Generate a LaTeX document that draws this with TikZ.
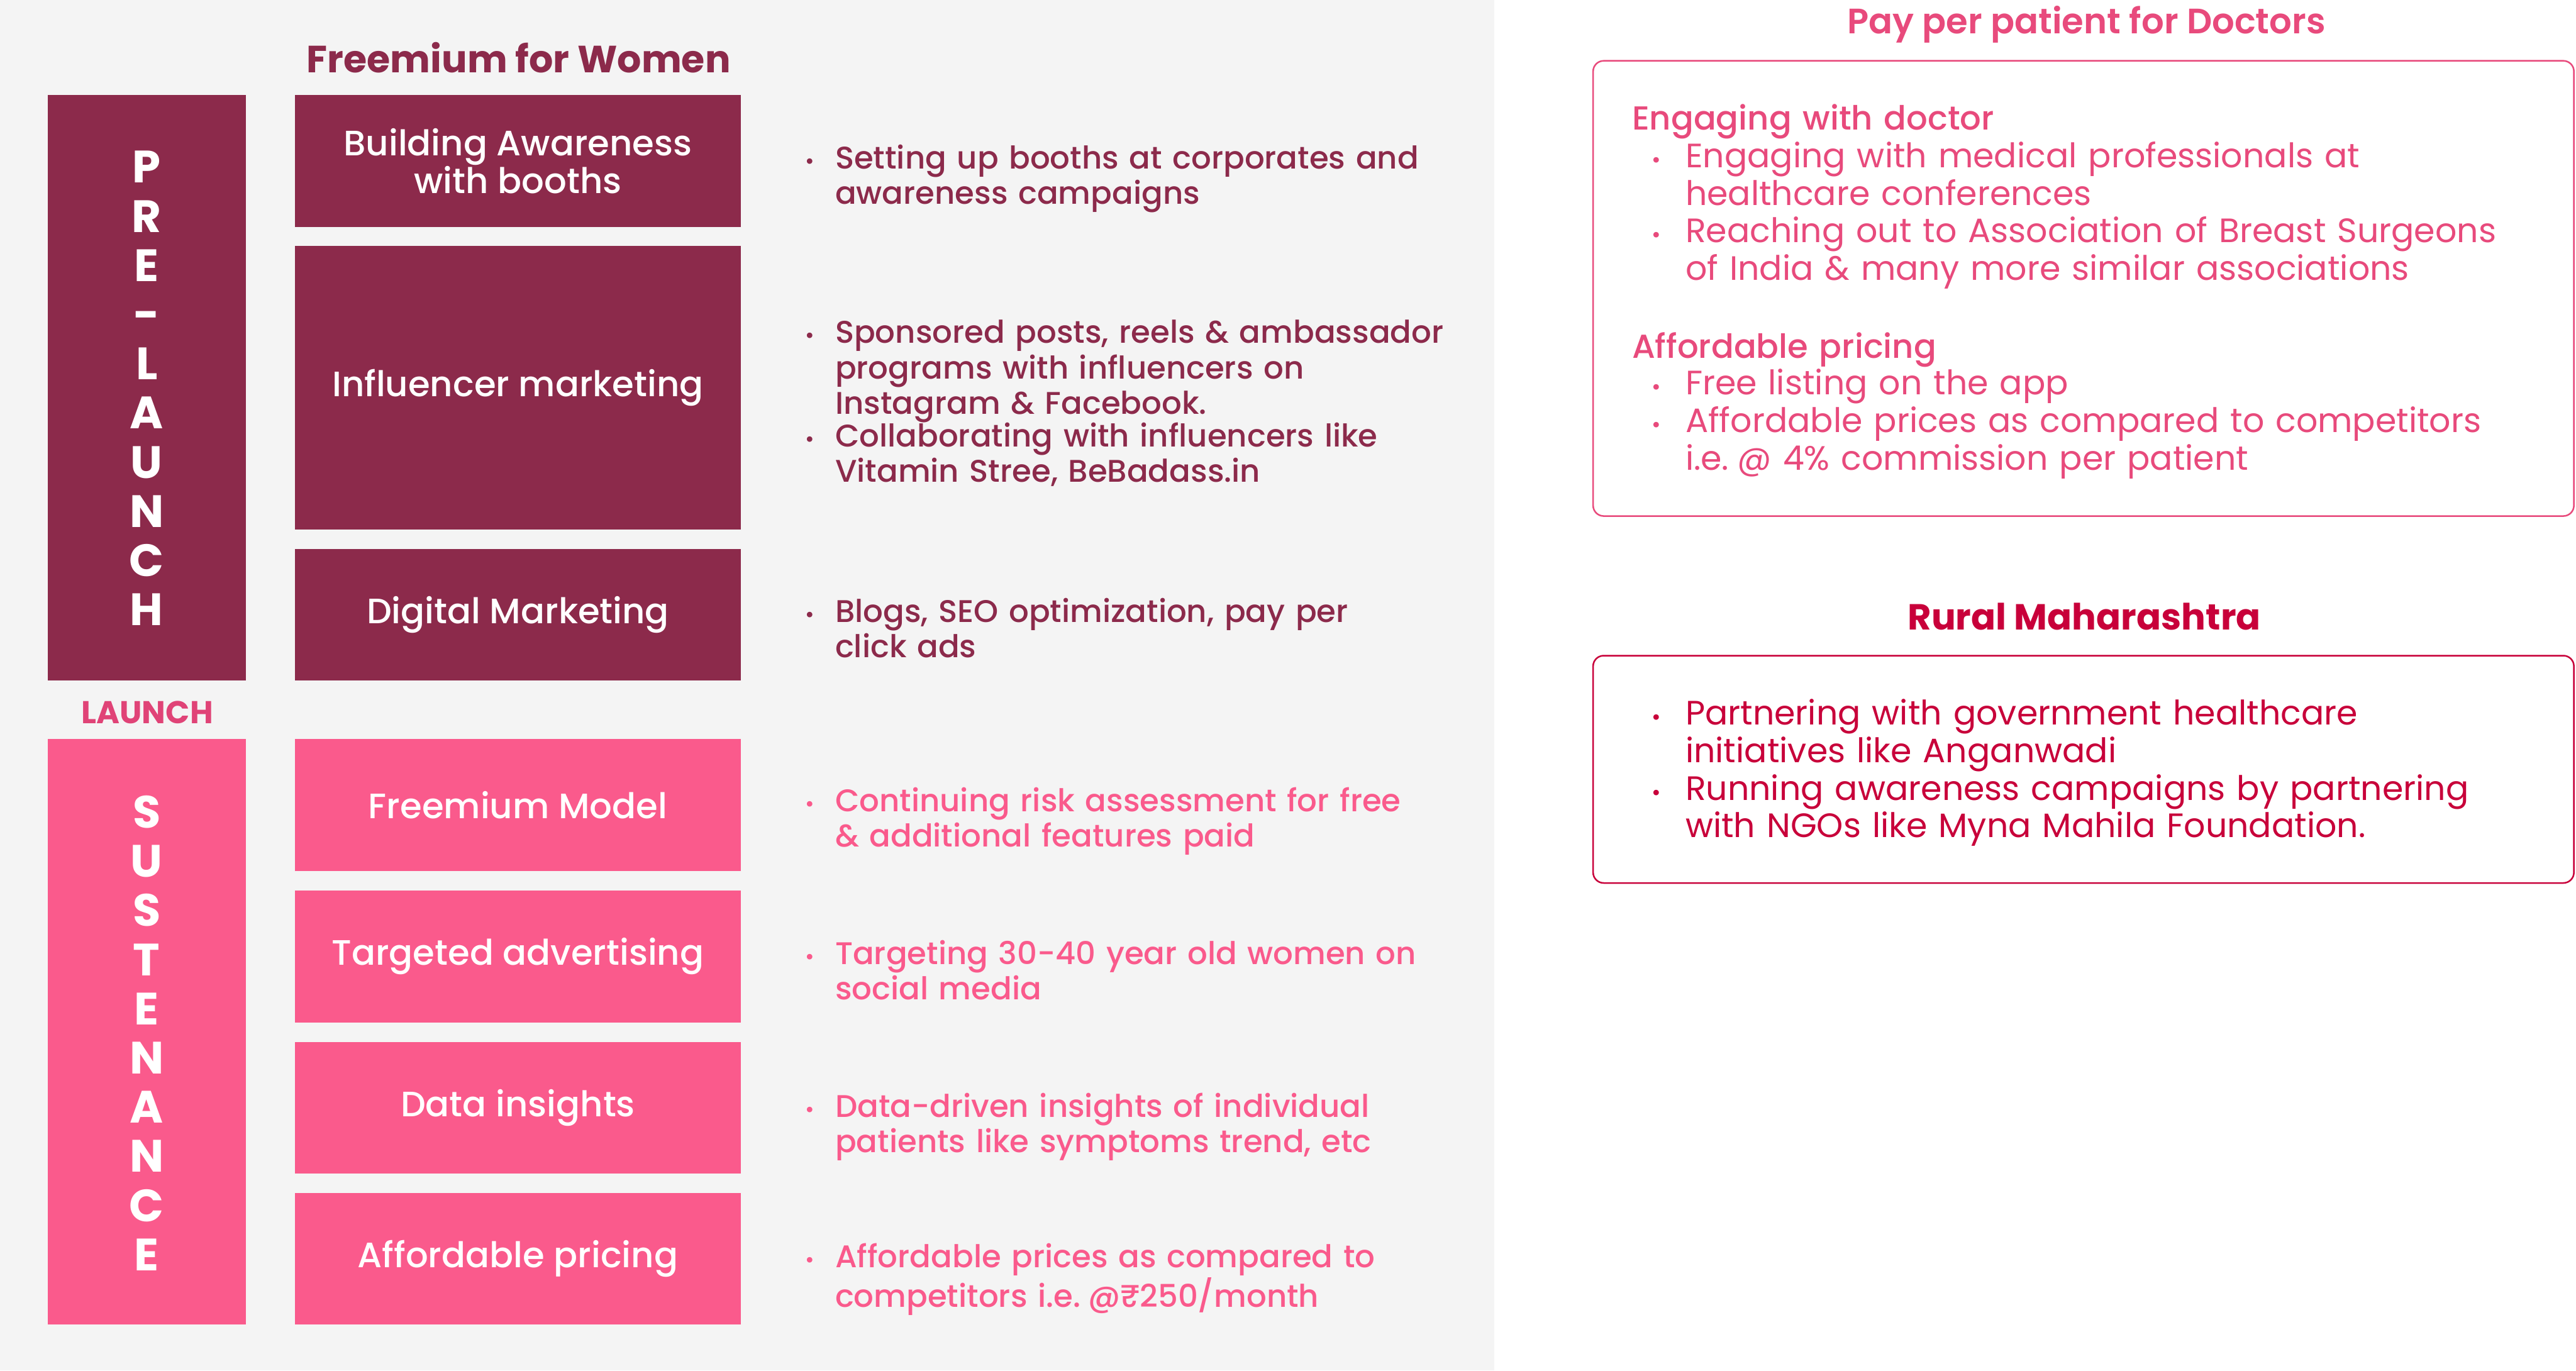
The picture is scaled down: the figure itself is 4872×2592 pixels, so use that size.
\documentclass[tikz,border=0pt]{standalone}
\usepackage{fontspec}
\setmainfont{Poppins}
\IfFontExistsTF{Poppins Medium}{\newfontfamily\medfont{Poppins Medium}}{\newfontfamily\medfont{Poppins}}
\IfFontExistsTF{Poppins SemiBold}{\newfontfamily\semifont{Poppins SemiBold}}{\newcommand\semifont{\bfseries}}
\usetikzlibrary{positioning}
\definecolor{plum}{HTML}{8C2A4B}
\definecolor{rose}{HTML}{FA5A8C}
\definecolor{launchpink}{HTML}{E04377}
\definecolor{docpink}{HTML}{E84A7C}
\definecolor{crimson}{HTML}{C8003A}
\definecolor{panelgray}{HTML}{F4F4F4}
\tikzset{bar/.style={rectangle,inner sep=0pt,minimum width=37.5mm,minimum height=110.7mm},
  stepbox/.style={rectangle,inner sep=0pt,minimum width=84.3mm,minimum height=24.9mm,align=center,text=white,font=\medfont\fontsize{19}{20.2}\selectfont},
  vletter/.style={anchor=base,inner sep=0pt,text=white,font=\bfseries\fontsize{24.4}{28}\selectfont},
  bul/.style={anchor=base,inner sep=0pt,font=\fontsize{12}{14}\selectfont},
  btext/.style={anchor=base west,inner sep=0pt,align=left,text width=125mm,font=\medfont\fontsize{16.85}{19.1}\selectfont},
  rtext/.style={anchor=base west,inner sep=0pt,align=left,text width=165mm,font=\fontsize{18.2}{20.2}\selectfont},
  head/.style={anchor=base,inner sep=0pt,font=\semifont\fontsize{19}{22}\selectfont},
  card/.style={rectangle,draw,rounded corners=2mm,line width=0.85pt,inner sep=0pt,minimum width=185.5mm}}

\begin{document}
\begin{tikzpicture}[x=0.1mm,y=-0.1mm]
\useasboundingbox (0,0) rectangle (4872,2592);
\fill[white] (0,0) rectangle (4872,2592);
\fill[panelgray] (0,0) rectangle (2826,2592);

% left column
\node[head,text=plum,font=\bfseries\fontsize{20.4}{24}\selectfont] (fw) at (981,137) {Freemium for Women};
\node[bar,fill=plum] (pre) at (277.5,733.5) {};
\node[bar,fill=rose] (sus) at (277.5,1951.5) {};
\foreach \l [count=\i] in {P,R,E,-,L,A,U,N,C,H}
  \node[vletter] (pre\i) at (277.5,{346+93*(\i-1)}) {\l};
\foreach \l [count=\i] in {S,U,S,T,E,N,A,N,C,E}
  \node[vletter] (sus\i) at (277.5,{1566+93*(\i-1)}) {\l};
\node[head,text=launchpink,font=\bfseries\fontsize{17}{20}\selectfont] (launch) at (278.5,1368) {LAUNCH};

\node[stepbox,fill=plum] (booth) at (979.5,304.5) {Building Awareness\\with booths};
\node[stepbox,fill=plum,minimum height=53.7mm] (infl) at (979.5,733.5) {Influencer marketing};
\node[stepbox,fill=plum] (digi) at (979.5,1162.5) {Digital Marketing};
\node[stepbox,fill=rose] (frm) at (979.5,1522.5) {Freemium Model};
\node[stepbox,fill=rose] (tgt) at (979.5,1809) {Targeted advertising};
\node[stepbox,fill=rose] (data) at (979.5,2095.5) {Data insights};
\node[stepbox,fill=rose] (afford) at (979.5,2380.5) {Affordable pricing};

% bullets next to the boxes
\node[bul,text=plum] (b1) at (1532,319) {•};
\node[btext,text=plum] (t1) at (1579,319) {Setting up booths at corporates and\\awareness campaigns};
\node[bul,text=plum] (b2) at (1532,649) {•};
\node[btext,text=plum] (t2) at (1579,649) {Sponsored posts, reels \& ambassador\\programs with influencers on\\Instagram \& Facebook.};
\node[bul,text=plum] (b3) at (1532,845) {•};
\node[btext,text=plum] (t3) at (1579,845) {Collaborating with influencers like\\Vitamin Stree, BeBadass.in};
\node[bul,text=plum] (b4) at (1532,1177) {•};
\node[btext,text=plum] (t4) at (1579,1177) {Blogs, SEO optimization, pay per\\click ads};
\node[bul,text=rose] (b5) at (1532,1535) {•};
\node[btext,text=rose] (t5) at (1579,1535) {Continuing risk assessment for free\\\& additional features paid};
\node[bul,text=rose] (b6) at (1532,1824) {•};
\node[btext,text=rose] (t6) at (1579,1824) {Targeting 30-40 year old women on\\social media};
\node[bul,text=rose] (b7) at (1532,2113) {•};
\node[btext,text=rose] (t7) at (1579,2113) {Data-driven insights of individual\\patients like symptoms trend, etc};
\node[bul,text=rose] (b8) at (1532,2397) {•};
\node[btext,text=rose] (t8) at (1579,2397) {Affordable prices as compared to\\competitors i.e.\kern-0.25em{} @₹250/month};

% right column
\node[head,text=docpink] (ppp) at (3946,64) {Pay per patient for Doctors};
\node[card,draw=docpink,minimum height=86.1mm] (doc) at (3940.5,545.5) {};
\node[rtext,text=docpink,font=\medfont\fontsize{17.9}{20.2}\selectfont] (eng) at (3086,246) {Engaging with doctor};
\node[bul,text=docpink] (d1) at (3133,317) {•};
\node[rtext,text=docpink] (e1) at (3187,317) {Engaging with medical professionals at\\healthcare conferences};
\node[bul,text=docpink] (d2) at (3133,459) {•};
\node[rtext,text=docpink] (e2) at (3187,459) {Reaching out to Association of Breast Surgeons\\of India \& many more similar associations};
\node[rtext,text=docpink,font=\medfont\fontsize{17.9}{20.2}\selectfont] (price) at (3086,677) {Affordable pricing};
\node[bul,text=docpink] (d3) at (3133,746) {•};
\node[rtext,text=docpink] (e3) at (3187,746) {Free listing on the app};
\node[bul,text=docpink] (d4) at (3133,818) {•};
\node[rtext,text=docpink] (e4) at (3187,818) {Affordable prices as compared to competitors\\i.e.\kern-0.25em{} @ 4\% commission per patient};

\node[head,text=crimson,font=\bfseries\fontsize{19.5}{22}\selectfont] (rural) at (3942,1191) {Rural Maharashtra};
\node[card,draw=crimson,minimum height=43mm] (ngo) at (3940.5,1455) {};
\node[bul,text=crimson] (r1) at (3133,1371) {•};
\node[rtext,text=crimson] (g1) at (3187,1371) {Partnering with government healthcare\\initiatives like Anganwadi};
\node[bul,text=crimson] (r2) at (3133,1513) {•};
\node[rtext,text=crimson] (g2) at (3187,1513) {Running awareness campaigns by partnering\\with NGOs like Myna Mahila Foundation.};
\end{tikzpicture}
\end{document}
